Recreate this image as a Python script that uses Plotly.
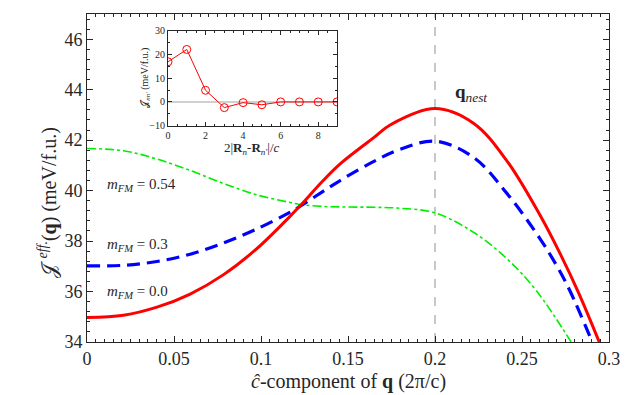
import plotly.graph_objects as go

# main curves, J_eff(q) in meV/f.u.
q_m00 = [0, 0.0210, 0.0402, 0.0593, 0.0785, 0.0976, 0.1168, 0.1225, 0.1359, 0.1455,
         0.1646, 0.1742, 0.2000, 0.2221, 0.2412, 0.2604, 0.2719, 0.2824, 0.2944]
j_m00 = [34.97, 35.06, 35.38, 35.90, 36.67, 37.70, 38.99, 39.40, 40.41, 41.06,
         42.09, 42.60, 43.25, 42.67, 41.19, 39.02, 37.50, 35.97, 34.0]

q_m03 = [0, 0.0210, 0.0402, 0.0593, 0.0785, 0.0976, 0.1168, 0.1225, 0.1359, 0.1455,
         0.1646, 0.1800, 0.2000, 0.2221, 0.2412, 0.2604, 0.2707, 0.2776, 0.2904]
j_m03 = [37.02, 37.04, 37.19, 37.48, 37.93, 38.48, 39.15, 39.38, 39.98, 40.40,
         41.15, 41.64, 41.96, 41.32, 39.90, 38.09, 36.93, 36.02, 34.0]

q_m054 = [0, 0.0210, 0.0402, 0.0593, 0.0785, 0.0976, 0.1168, 0.1225, 0.1359, 0.1500,
          0.1650, 0.1800, 0.2000, 0.2221, 0.2412, 0.2584, 0.2782]
j_m054 = [41.67, 41.58, 41.25, 40.80, 40.28, 39.83, 39.53, 39.45, 39.37, 39.35,
          39.34, 39.30, 39.12, 38.35, 37.31, 36.02, 34.0]

q_nest = 0.2

# inset: exchange constants vs distance
dist = [0, 1, 2, 3, 4, 5, 6, 7, 8, 9]
j_nn = [16.9, 22.1, 4.9, -2.4, -0.3, -1.2, 0.0, 0.0, 0.0, 0.0]

FONT = "Liberation Serif"
AX = "#262626"

# the page body has an 8px margin, so the figure is shrunk by that much
# and positions below are given in page pixels of the target picture
X0, X1 = 87, 609
Y0, Y1 = 8, 342


def px(x):
    return (x - X0) / (X1 - X0)


def py(y):
    return (Y1 - y) / (Y1 - Y0)


fig = go.Figure()

fig.add_vline(x=q_nest, line=dict(color="#c8c8c8", width=2, dash="dash"), layer="below")

fig.add_trace(go.Scatter(x=q_m054, y=j_m054, mode="lines",
                         line=dict(color="#00ee00", width=1.6, dash="dashdot", shape="spline")))
fig.add_trace(go.Scatter(x=q_m03, y=j_m03, mode="lines",
                         line=dict(color="#0000ff", width=3.2, dash="13px,7px", shape="spline")))
fig.add_trace(go.Scatter(x=q_m00, y=j_m00, mode="lines",
                         line=dict(color="#ff0000", width=3, shape="spline")))

fig.add_trace(go.Scatter(x=dist, y=j_nn, mode="lines+markers", xaxis="x2", yaxis="y2",
                         line=dict(color="#ff0000", width=1),
                         marker=dict(symbol="circle-open", size=8, color="#ff0000", line=dict(width=1))))

axis_common = dict(showline=True, linecolor=AX, linewidth=1, mirror="allticks", ticks="inside",
                   tickcolor=AX, showgrid=False, zeroline=False)

fig.update_layout(
    width=631, height=387,
    margin=dict(l=X0 - 8, r=631 - (X1 - 8), t=Y0 - 8, b=387 - (Y1 - 8)),
    paper_bgcolor="white", plot_bgcolor="white",
    showlegend=False,
    font=dict(family=FONT, color=AX, size=18),
    xaxis=dict(range=[0, 0.3], tickvals=[0, 0.05, 0.1, 0.15, 0.2, 0.25, 0.3],
               ticktext=["0", "0.05", "0.1", "0.15", "0.2", "0.25", "0.3"], ticklen=6,
               minor=dict(ticks="inside", dtick=0.005, ticklen=3, tickcolor=AX),
               **axis_common),
    yaxis=dict(range=[34, 47], tickvals=[34, 36, 38, 40, 42, 44, 46], ticklen=6,
               minor=dict(ticks="inside", dtick=0.4, tick0=34, ticklen=3, tickcolor=AX),
               **axis_common),
    xaxis2=dict(domain=[px(168), px(337)], anchor="y2", range=[0, 9], tickvals=[0, 2, 4, 6, 8],
                ticklen=4, tickfont=dict(size=10),
                minor=dict(ticks="inside", dtick=0.5, ticklen=2, tickcolor=AX),
                **axis_common),
    yaxis2=dict(domain=[py(121.7), py(25)], anchor="x2", range=[-10, 30],
                tickvals=[-10, 0, 10, 20, 30], ticklen=4, tickfont=dict(size=10),
                minor=dict(ticks="inside", dtick=5, ticklen=2, tickcolor=AX),
                **{**axis_common, "zeroline": True}, zerolinecolor="#d0d0d0", zerolinewidth=1.5),
)

labels = [
    ("<i>m<sub>FM</sub></i> = 0.54", 40.22),
    ("<i>m<sub>FM</sub></i> = 0.3", 37.83),
    ("<i>m<sub>FM</sub></i> = 0.0", 36.0),
]
for txt, yv in labels:
    fig.add_annotation(x=0.0105, y=yv, text=txt, showarrow=False, xanchor="left", yanchor="middle",
                       font=dict(size=15))

fig.add_annotation(x=0.2104, y=43.85, text="<b>q</b><i><sub>nest</sub></i>", showarrow=False,
                   xanchor="left", yanchor="middle", font=dict(size=19))

titles = [
    ("<i>ĉ</i>-component of <b>q</b> (2π/c)", 348, 382, 0, 20),
    ("𝒥 <sup><i>eff.</i></sup>(<b>q</b>) (meV/f.u.)", 48, 200, -90, 20),
    ("2|<b>R</b><i><sub>n</sub></i>-<b>R</b><i><sub>n′</sub></i>|/<i>c</i>", 252, 145, 0, 13),
    ("𝒥<sub><i>nn′</i></sub> (meV/f.u.)", 146, 73, -90, 10),
]
for txt, x, y, ang, size in titles:
    fig.add_annotation(x=px(x), y=py(y), xref="paper", yref="paper", showarrow=False,
                       xanchor="center", yanchor="middle", textangle=ang,
                       text=txt, font=dict(size=size))

fig.write_html("out.html")
